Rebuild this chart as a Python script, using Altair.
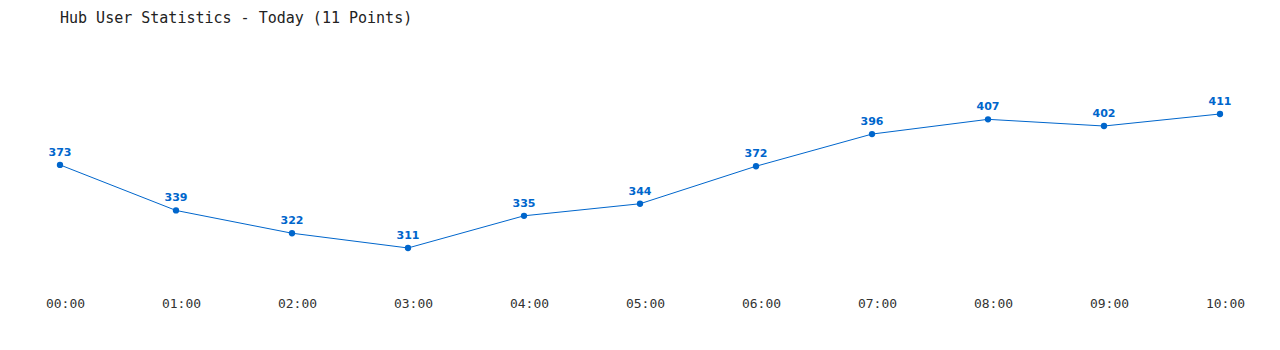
import altair as alt
import pandas as pd

times = ["00:00", "01:00", "02:00", "03:00", "04:00", "05:00",
         "06:00", "07:00", "08:00", "09:00", "10:00"]
users = [373, 339, 322, 311, 335, 344, 372, 396, 407, 402, 411]

df = pd.DataFrame({"time": times, "users": users})

blue = "#0066cc"
x = alt.X("time:O", sort=times,
          scale=alt.Scale(type="point", padding=0),
          axis=alt.Axis(title=None, labelAngle=0, domain=False, ticks=False,
                        grid=False, labelPadding=17, labelOffset=5,
                        labelFont="DejaVu Sans Mono",
                        labelFontSize=13, labelColor="#333333"))
y = alt.Y("users:Q", scale=alt.Scale(domain=[287.1, 466.2], nice=False, zero=False),
          axis=None)

base = alt.Chart(df).encode(x=x, y=y)
line = base.mark_line(color=blue, strokeWidth=1)
pts = base.mark_circle(color=blue, size=40, opacity=1)
labels = base.mark_text(color=blue, fontWeight="bold", font="DejaVu Sans",
                        fontSize=11, dy=-12).encode(text="users:Q")

chart = (line + pts + labels).properties(
    width=1160, height=240,
    title=alt.Title("Hub User Statistics - Today (11 Points)", anchor="start",
                    frame="group", font="DejaVu Sans Mono", fontSize=15,
                    fontWeight="normal", color="#222222", offset=14, dx=0),
    autosize=alt.AutoSizeParams(type="none"),
    padding={"left": 60, "top": 40, "right": 60, "bottom": 30},
).configure_view(stroke=None)

chart.save("out.html", embed_options={"renderer": "svg", "actions": False})
